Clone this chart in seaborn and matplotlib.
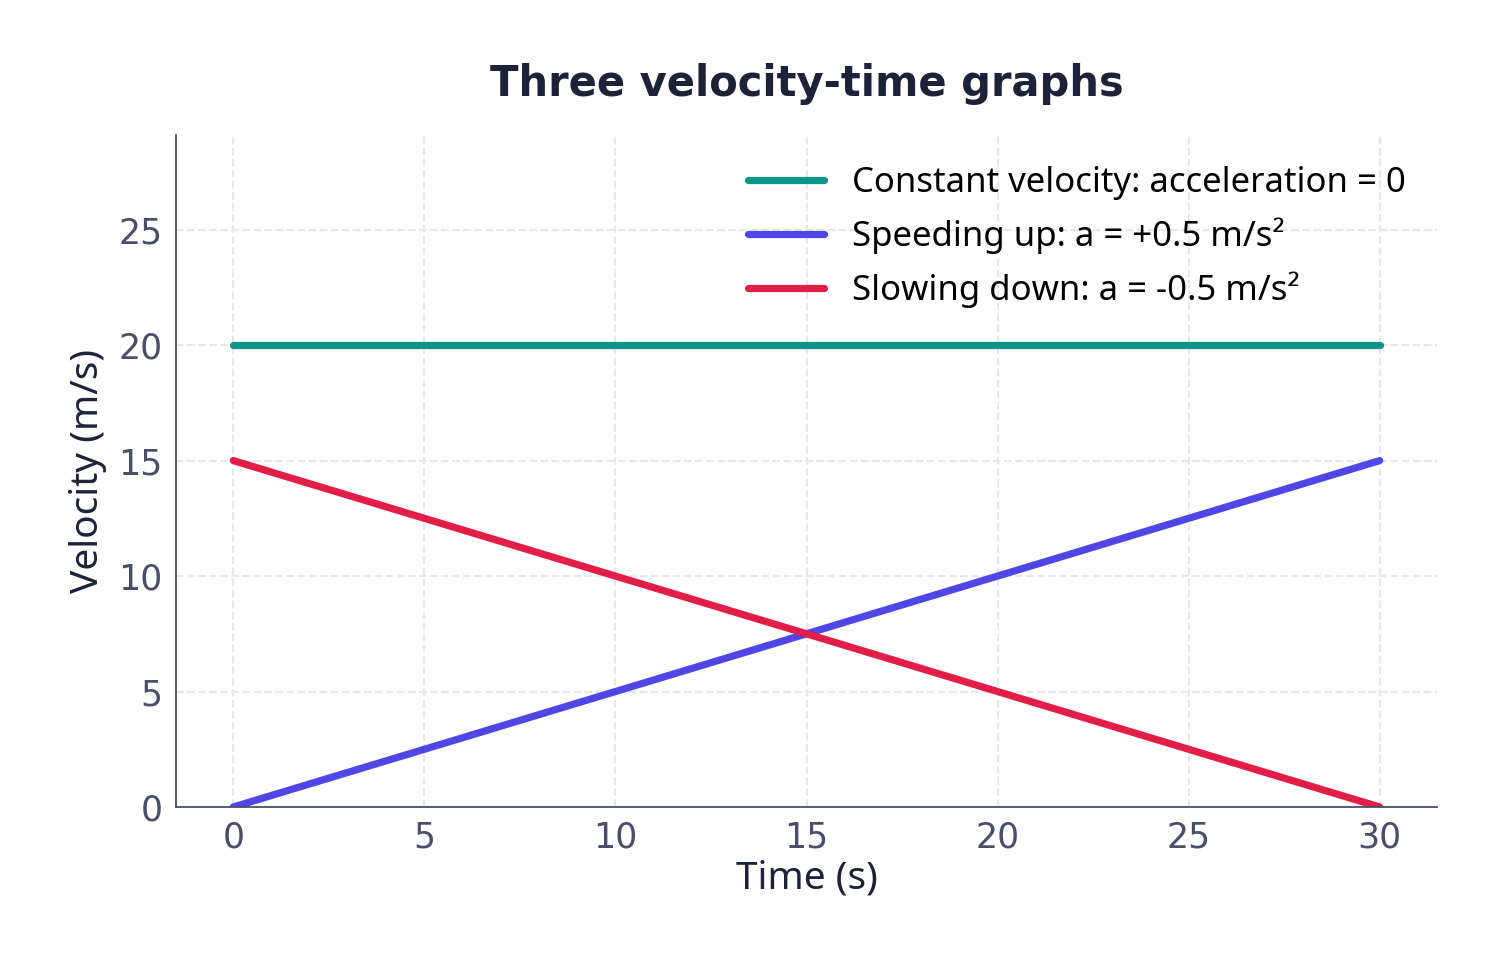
import matplotlib
matplotlib.use("Agg")
import matplotlib.pyplot as plt
import seaborn as sns
import pandas as pd

time = [0, 30]
constant = [20, 20]
speeding = [0, 15]
slowing = [15, 0]
labels = ["Constant velocity: acceleration = 0", "Speeding up: a = +0.5 m/s²", "Slowing down: a = -0.5 m/s²"]
colors = ["#0d9488", "#4f46e5", "#e11d48"]

sns.set_style("white")
plt.rcParams['font.family'] = ['DejaVu Sans']
df = pd.concat([pd.DataFrame({"t": time, "v": vals, "s": lab}) for vals, lab in zip([constant, speeding, slowing], labels)])

fig = plt.figure(figsize=(15.03, 9.73), dpi=100)
ax = fig.add_axes([176/1503, 1-807/973, (1437-176)/1503, (807-135)/973])
sns.lineplot(data=df, x="t", y="v", hue="s", palette=colors, linewidth=5.2, ax=ax, solid_capstyle="round")
ax.set_xlim(-1.5, 31.5)
ax.set_ylim(0, 29.1)
ax.set_xticks(range(0, 31, 5))
ax.set_yticks(range(0, 26, 5))
ax.grid(True, color="#e5e7f0", linestyle="--", linewidth=1.5)
ax.set_axisbelow(True)
for s in ["top", "right"]:
    ax.spines[s].set_visible(False)
for s in ["left", "bottom"]:
    ax.spines[s].set_color("#4a4e69")
    ax.spines[s].set_linewidth(1.3)
ax.tick_params(axis="both", labelsize=25, colors="#4a4e69", length=6, labelcolor="#4a4e69")
ax.set_xlabel("Time (s)", fontsize=28, color="#1e2238", family="Noto Sans", labelpad=4)
ax.set_ylabel("Velocity (m/s)", fontsize=28, color="#1e2238", family="Noto Sans", labelpad=8)
ax.set_title("Three velocity-time graphs", fontsize=30, fontweight="bold", color="#1e2238", pad=28)
leg = ax.legend(loc="upper right", frameon=False, prop={"family": "Noto Sans", "size": 25},
                handlelength=2.2, bbox_to_anchor=(1.0, 1.0))
for l in leg.get_lines():
    l.set_linewidth(5.2)
for t in leg.get_texts():
    t.set_color("black")
fig.savefig("out.png", dpi=100)
